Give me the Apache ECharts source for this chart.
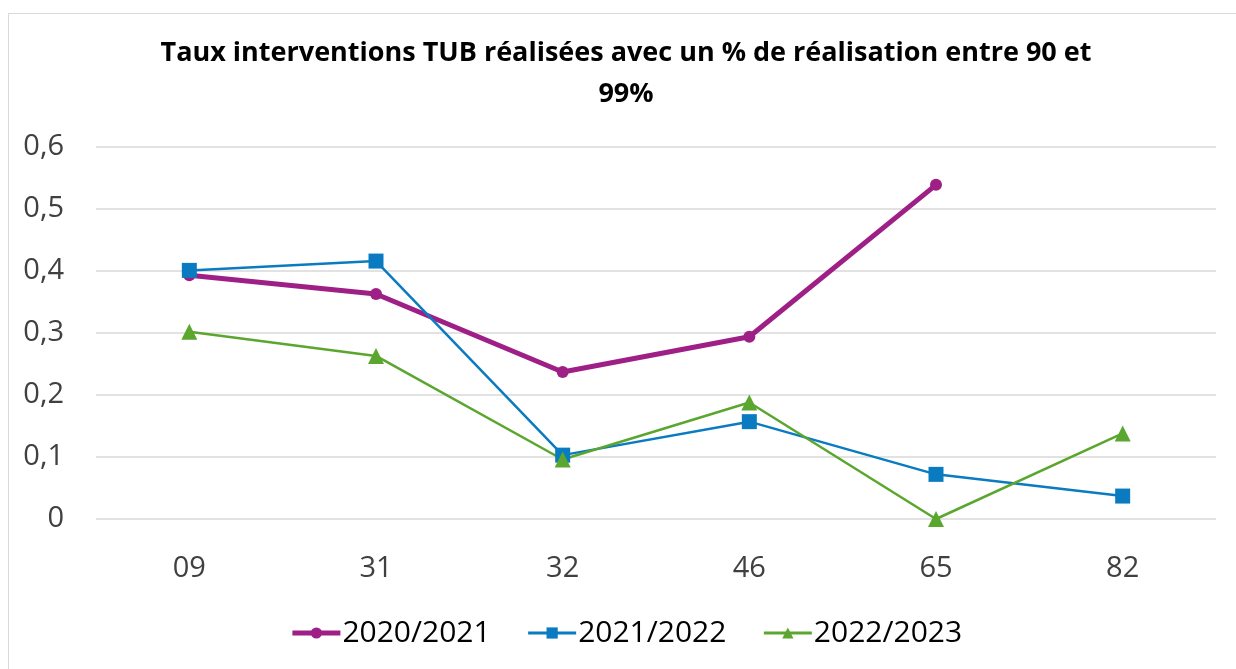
<!DOCTYPE html>
<html>
<head>
<meta charset="utf-8">
<script src="https://cdn.jsdelivr.net/npm/echarts@6/dist/echarts.min.js"></script>
<style>
  html, body { margin: 0; padding: 0; background: #fff; overflow: hidden; }
  #chart { position: absolute; left: 8px; top: 13px; width: 1236px; height: 680px; border: 1px solid #d9d9d9; box-sizing: border-box; }
</style>
</head>
<body>
<div id="chart"></div>
<script>
// categories (département codes)
var categories = ["09", "31", "32", "46", "65", "82"];
var serie2020 = [0.393, 0.363, 0.237, 0.294, 0.539, null];
var serie2021 = [0.401, 0.416, 0.103, 0.157, 0.072, 0.037];
var serie2022 = [0.302, 0.263, 0.096, 0.188, 0, 0.138];
var yTicks = { min: 0, max: 0.6, interval: 0.1 };

var chart = echarts.init(document.getElementById("chart"));
var font = "'Open Sans', 'Noto Sans', sans-serif";

var option = {
  animation: false,
  title: {
    text: "Taux interventions TUB réalisées avec un % de réalisation entre 90 et\n99%",
    left: "center",
    top: 14,
    textStyle: { fontFamily: font, fontSize: 27, fontWeight: "bold", color: "#000", lineHeight: 41 }
  },
  grid: { left: 87, right: 27, top: 133, bottom: 173 },
  legend: {
    top: 599,
    left: "center",
    itemWidth: 48,
    itemHeight: 14,
    itemGap: 36,
    textStyle: { fontFamily: font, fontSize: 30, color: "#000", padding: [0, 0, 0, -3] },
    data: [
      { name: "2020/2021", lineStyle: { width: 5 } },
      { name: "2021/2022", lineStyle: { width: 3 } },
      { name: "2022/2023", lineStyle: { width: 3 } }
    ]
  },
  xAxis: {
    type: "category",
    data: categories,
    axisLine: { show: false },
    axisTick: { show: false },
    axisLabel: { fontFamily: font, fontSize: 29, color: "#404040", margin: 35 }
  },
  yAxis: {
    type: "value",
    min: yTicks.min,
    max: yTicks.max,
    interval: yTicks.interval,
    axisLine: { show: false },
    axisTick: { show: false },
    splitLine: { lineStyle: { color: "#d9d9d9", width: 1.5 } },
    axisLabel: {
      fontFamily: font, fontSize: 29, color: "#404040", margin: 32,
      formatter: function (v) { return String(Math.round(v * 10) / 10).replace(".", ","); }
    }
  },
  series: [
    {
      name: "2020/2021", type: "line", data: serie2020,
      symbol: "circle", symbolSize: 12,
      lineStyle: { color: "#9e1f85", width: 5 },
      itemStyle: { color: "#9e1f85" }
    },
    {
      name: "2021/2022", type: "line", data: serie2021,
      symbol: "rect", symbolSize: 15,
      lineStyle: { color: "#0a7bc1", width: 2.5 },
      itemStyle: { color: "#0a7bc1" }
    },
    {
      name: "2022/2023", type: "line", data: serie2022,
      symbol: "triangle", symbolSize: 16,
      lineStyle: { color: "#5ba62e", width: 2.5 },
      itemStyle: { color: "#5ba62e" }
    }
  ]
};
chart.setOption(option);
window.addEventListener("resize", function () { chart.resize(); });
</script>
</body>
</html>
